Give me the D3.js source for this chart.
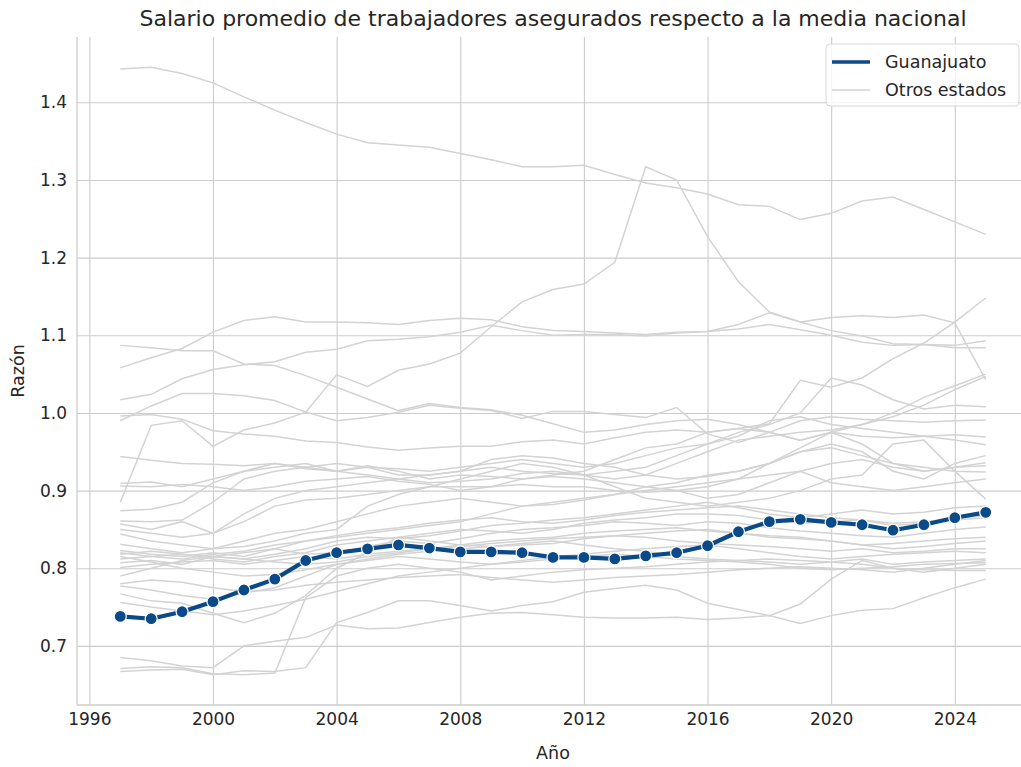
<!DOCTYPE html>
<html>
<head>
<meta charset="utf-8">
<script src="https://cdn.jsdelivr.net/npm/d3@7"></script>
<style>
  body { margin: 0; background: #fff; }
  text { font-family: "DejaVu Sans", sans-serif; fill: #262626; }
</style>
</head>
<body>
<script>
// years on the x axis
var years = d3.range(1997, 2026);

// Guanajuato ratio
var guanajuato = [0.738,0.735,0.744,0.757,0.772,0.786,0.810,0.820,0.825,0.830,0.826,0.821,0.821,0.820,0.814,0.814,0.812,0.816,0.820,0.829,0.847,0.860,0.863,0.859,0.856,0.849,0.856,0.865,0.872];

// the other states (one array per state)
var otros = [
  [1.443,1.445,1.437,1.425,1.407,1.390,1.374,1.359,1.348,1.345,1.342,1.334,1.326,1.317,1.317,1.319,1.307,1.296,1.290,1.282,1.268,1.266,1.249,1.257,1.273,1.278,1.262,1.246,1.230],
  [0.885,0.984,0.990,0.957,0.978,0.987,1.001,1.049,1.034,1.055,1.063,1.077,1.111,1.143,1.159,1.166,1.194,1.317,1.300,1.227,1.169,1.130,1.117,1.106,1.099,1.089,1.088,1.087,1.093],
  [1.058,1.071,1.083,1.104,1.119,1.124,1.117,1.117,1.116,1.114,1.119,1.122,1.120,1.111,1.106,1.105,1.103,1.101,1.104,1.105,1.114,1.129,1.117,1.123,1.125,1.123,1.126,1.116,1.043],
  [1.017,1.024,1.044,1.056,1.062,1.066,1.078,1.082,1.093,1.095,1.098,1.104,1.113,1.106,1.100,1.101,1.101,1.099,1.103,1.105,1.108,1.114,1.107,1.100,1.091,1.087,1.088,1.084,1.084],
  [1.087,1.084,1.080,1.080,1.063,1.061,1.048,1.033,1.018,1.003,1.012,1.007,1.004,0.997,0.986,0.975,0.978,0.985,0.990,0.992,0.985,0.975,0.965,0.975,0.970,0.968,0.970,0.972,0.969],
  [0.990,1.009,1.025,1.025,1.022,1.016,1.001,0.990,0.994,1.001,1.010,1.006,1.003,0.993,1.002,1.002,0.998,0.994,1.007,0.973,0.962,0.975,0.990,0.995,0.992,0.990,0.988,0.990,0.991],
  [0.996,0.998,0.992,0.977,0.973,0.970,0.964,0.962,0.956,0.952,0.955,0.957,0.957,0.963,0.965,0.960,0.968,0.975,0.978,0.975,0.980,0.986,1.042,1.033,1.045,1.070,1.090,1.117,1.148],
  [0.944,0.939,0.935,0.934,0.932,0.935,0.928,0.925,0.930,0.928,0.925,0.930,0.935,0.940,0.935,0.930,0.935,0.945,0.955,0.960,0.975,0.985,1.000,1.045,1.036,1.017,1.005,1.010,1.008],
  [0.909,0.911,0.905,0.915,0.925,0.935,0.930,0.925,0.920,0.915,0.910,0.912,0.915,0.922,0.925,0.920,0.915,0.920,0.935,0.950,0.965,0.970,0.975,0.978,0.985,1.000,1.020,1.035,1.050],
  [0.906,0.905,0.908,0.905,0.900,0.905,0.912,0.915,0.918,0.912,0.908,0.900,0.905,0.915,0.920,0.925,0.940,0.955,0.960,0.975,0.980,0.975,0.965,0.975,0.985,0.995,1.010,1.030,1.047],
  [0.874,0.876,0.885,0.910,0.925,0.930,0.935,0.925,0.932,0.925,0.915,0.920,0.918,0.915,0.918,0.915,0.910,0.905,0.910,0.920,0.925,0.935,0.950,0.955,0.945,0.935,0.930,0.925,0.924],
  [0.861,0.860,0.862,0.885,0.915,0.925,0.930,0.935,0.930,0.920,0.920,0.925,0.940,0.945,0.942,0.935,0.930,0.920,0.915,0.918,0.925,0.935,0.950,0.960,0.950,0.925,0.915,0.935,0.945],
  [0.857,0.850,0.860,0.845,0.870,0.890,0.900,0.905,0.910,0.915,0.920,0.925,0.930,0.925,0.922,0.920,0.925,0.930,0.945,0.960,0.970,0.990,0.995,0.985,0.980,0.975,0.970,0.965,0.959],
  [0.850,0.845,0.840,0.845,0.860,0.880,0.888,0.890,0.895,0.900,0.905,0.905,0.905,0.908,0.905,0.905,0.900,0.898,0.900,0.905,0.915,0.935,0.955,0.975,0.960,0.935,0.925,0.930,0.932],
  [0.844,0.835,0.830,0.825,0.828,0.835,0.845,0.850,0.880,0.895,0.905,0.915,0.925,0.935,0.930,0.920,0.905,0.890,0.885,0.880,0.885,0.890,0.900,0.915,0.920,0.960,0.965,0.925,0.889],
  [0.831,0.825,0.820,0.825,0.835,0.845,0.850,0.860,0.870,0.880,0.885,0.890,0.885,0.880,0.882,0.888,0.895,0.905,0.900,0.890,0.895,0.910,0.925,0.935,0.940,0.930,0.925,0.930,0.936],
  [0.823,0.818,0.815,0.820,0.815,0.825,0.835,0.840,0.845,0.850,0.855,0.860,0.870,0.880,0.885,0.890,0.895,0.900,0.905,0.910,0.915,0.920,0.925,0.910,0.905,0.900,0.905,0.910,0.915],
  [0.818,0.822,0.818,0.815,0.812,0.818,0.825,0.835,0.840,0.838,0.842,0.848,0.855,0.858,0.862,0.865,0.870,0.875,0.880,0.885,0.878,0.870,0.865,0.870,0.875,0.870,0.872,0.878,0.880],
  [0.812,0.815,0.818,0.812,0.808,0.815,0.820,0.830,0.835,0.840,0.845,0.850,0.848,0.845,0.850,0.858,0.862,0.865,0.870,0.870,0.868,0.862,0.858,0.860,0.862,0.855,0.858,0.862,0.865],
  [0.807,0.810,0.805,0.815,0.820,0.825,0.818,0.820,0.828,0.835,0.832,0.838,0.845,0.850,0.852,0.855,0.860,0.858,0.855,0.860,0.858,0.852,0.848,0.845,0.842,0.840,0.845,0.850,0.853],
  [0.801,0.805,0.808,0.810,0.805,0.810,0.815,0.812,0.818,0.822,0.825,0.830,0.835,0.838,0.840,0.845,0.848,0.850,0.852,0.848,0.845,0.840,0.838,0.835,0.830,0.832,0.835,0.838,0.840],
  [0.790,0.800,0.810,0.815,0.812,0.808,0.805,0.808,0.815,0.820,0.825,0.828,0.832,0.835,0.838,0.840,0.842,0.845,0.848,0.850,0.845,0.842,0.840,0.835,0.830,0.825,0.828,0.832,0.835],
  [0.777,0.772,0.765,0.760,0.768,0.775,0.790,0.805,0.812,0.818,0.822,0.825,0.828,0.830,0.832,0.838,0.842,0.840,0.835,0.832,0.830,0.828,0.825,0.822,0.825,0.820,0.822,0.825,0.825],
  [0.767,0.758,0.755,0.742,0.730,0.742,0.765,0.800,0.820,0.840,0.835,0.830,0.828,0.832,0.835,0.830,0.825,0.822,0.815,0.812,0.810,0.808,0.805,0.808,0.812,0.805,0.808,0.810,0.812],
  [0.756,0.750,0.745,0.740,0.745,0.752,0.760,0.770,0.780,0.790,0.795,0.800,0.805,0.808,0.812,0.815,0.818,0.815,0.812,0.810,0.808,0.805,0.800,0.798,0.800,0.802,0.805,0.806,0.807],
  [0.685,0.681,0.674,0.672,0.700,0.706,0.711,0.727,0.722,0.723,0.730,0.737,0.742,0.743,0.740,0.737,0.736,0.736,0.737,0.734,0.736,0.739,0.729,0.739,0.746,0.748,0.762,0.775,0.786],
  [0.671,0.673,0.672,0.664,0.663,0.665,0.762,0.790,0.800,0.805,0.800,0.795,0.785,0.790,0.795,0.798,0.800,0.802,0.805,0.808,0.810,0.812,0.810,0.808,0.805,0.800,0.798,0.797,0.797],
  [0.667,0.669,0.670,0.663,0.668,0.667,0.672,0.730,0.743,0.758,0.758,0.752,0.745,0.752,0.757,0.769,0.774,0.778,0.772,0.755,0.747,0.739,0.754,0.786,0.810,0.800,0.795,0.800,0.805],
  [0.820,0.815,0.812,0.818,0.822,0.830,0.835,0.842,0.848,0.852,0.858,0.862,0.865,0.860,0.858,0.862,0.868,0.872,0.875,0.878,0.880,0.875,0.870,0.865,0.862,0.858,0.860,0.864,0.868],
  [0.815,0.808,0.800,0.795,0.790,0.792,0.798,0.805,0.810,0.815,0.812,0.808,0.805,0.810,0.815,0.818,0.822,0.825,0.828,0.830,0.825,0.820,0.815,0.812,0.815,0.818,0.820,0.822,0.820],
  [0.780,0.785,0.782,0.775,0.770,0.772,0.778,0.782,0.785,0.788,0.790,0.792,0.788,0.785,0.782,0.785,0.788,0.790,0.792,0.795,0.798,0.800,0.802,0.800,0.798,0.795,0.800,0.805,0.810]
];

var xTicks = [1996, 2000, 2004, 2008, 2012, 2016, 2020, 2024];
var yTicks = [0.7, 0.8, 0.9, 1.0, 1.1, 1.2, 1.3, 1.4];

var w = 1021;
var h = 767;
var mLeft = 77, mTop = 37, mBottom = 705;
var plotRight = 1029;

var svg = d3.select('body')
            .append('svg')
            .attr('width', w)
            .attr('height', h);

// matplotlib style 5% margins
var xMin = d3.min(years), xMax = d3.max(years);
var xPad = (xMax - xMin) * 0.05;
var x = d3.scaleLinear()
          .domain([xMin - xPad, xMax + xPad])
          .range([mLeft, plotRight]);

var allVals = d3.merge(otros.concat([guanajuato]));
var yMin = d3.min(allVals), yMax = d3.max(allVals);
var yPad = (yMax - yMin) * 0.05;
var y = d3.scaleLinear()
          .domain([yMin - yPad, yMax + yPad])
          .range([mBottom, mTop]);

// grid + tick labels
var gx = svg.append('g')
            .attr('transform', 'translate(0,' + mBottom + ')')
            .call(d3.axisBottom(x).tickValues(xTicks).tickFormat(d3.format('d'))
                  .tickSizeInner(-(mBottom - mTop)).tickSizeOuter(0).tickPadding(8));
var gy = svg.append('g')
            .attr('transform', 'translate(' + mLeft + ',0)')
            .call(d3.axisLeft(y).tickValues(yTicks).tickFormat(d3.format('.1f'))
                  .tickSizeInner(-(plotRight - mLeft)).tickSizeOuter(0).tickPadding(10));

[gx, gy].forEach(function(g) {
  g.select('.domain').remove();
  g.selectAll('.tick line').attr('stroke', '#cccccc').attr('stroke-width', 1.1);
  g.selectAll('.tick text').style('font-size', '17px').style('font-family', '"DejaVu Sans", sans-serif').attr('fill', '#262626');
});

// left and bottom spines
svg.append('line').attr('x1', mLeft).attr('x2', mLeft).attr('y1', mTop).attr('y2', mBottom)
   .attr('stroke', '#cccccc').attr('stroke-width', 1.3);
svg.append('line').attr('x1', mLeft).attr('x2', plotRight).attr('y1', mBottom).attr('y2', mBottom)
   .attr('stroke', '#cccccc').attr('stroke-width', 1.3);

var line = d3.line()
             .x(function(d, i) { return x(years[i]); })
             .y(function(d) { return y(d); });

svg.append('g')
   .selectAll('path')
   .data(otros)
   .enter()
   .append('path')
   .attr('d', line)
   .attr('fill', 'none')
   .attr('stroke', '#d3d3d3')
   .attr('stroke-width', 1.5);

var azul = '#0a4a88';

svg.append('path')
   .datum(guanajuato)
   .attr('d', line)
   .attr('fill', 'none')
   .attr('stroke', azul)
   .attr('stroke-width', 4.2)
   .attr('stroke-linejoin', 'round');

svg.append('g')
   .selectAll('circle')
   .data(guanajuato)
   .enter()
   .append('circle')
   .attr('cx', function(d, i) { return x(years[i]); })
   .attr('cy', function(d) { return y(d); })
   .attr('r', 6)
   .attr('fill', azul)
   .attr('stroke', '#ffffff')
   .attr('stroke-width', 1.2);

// title and axis labels
svg.append('text')
   .attr('x', (mLeft + plotRight) / 2)
   .attr('y', 26)
   .attr('text-anchor', 'middle')
   .style('font-size', '22px')
   .text('Salario promedio de trabajadores asegurados respecto a la media nacional');

svg.append('text')
   .attr('x', (mLeft + plotRight) / 2)
   .attr('y', 759)
   .attr('text-anchor', 'middle')
   .style('font-size', '17.5px')
   .text('Año');

svg.append('text')
   .attr('transform', 'translate(24,' + ((mTop + mBottom) / 2) + ') rotate(-90)')
   .attr('text-anchor', 'middle')
   .style('font-size', '17.5px')
   .text('Razón');

// legend
var lg = svg.append('g').attr('transform', 'translate(826,44)');
lg.append('rect')
  .attr('width', 193).attr('height', 62).attr('rx', 4)
  .attr('fill', 'rgba(255,255,255,0.8)').attr('stroke', '#d6d6d6');
lg.append('line').attr('x1', 6).attr('x2', 44).attr('y1', 18).attr('y2', 18)
  .attr('stroke', azul).attr('stroke-width', 3.5);
lg.append('line').attr('x1', 6).attr('x2', 44).attr('y1', 46).attr('y2', 46)
  .attr('stroke', '#d3d3d3').attr('stroke-width', 1.5);
lg.append('text').attr('x', 59).attr('y', 24).style('font-size', '17.5px').text('Guanajuato');
lg.append('text').attr('x', 59).attr('y', 52).style('font-size', '17.5px').text('Otros estados');
</script>
</body>
</html>
